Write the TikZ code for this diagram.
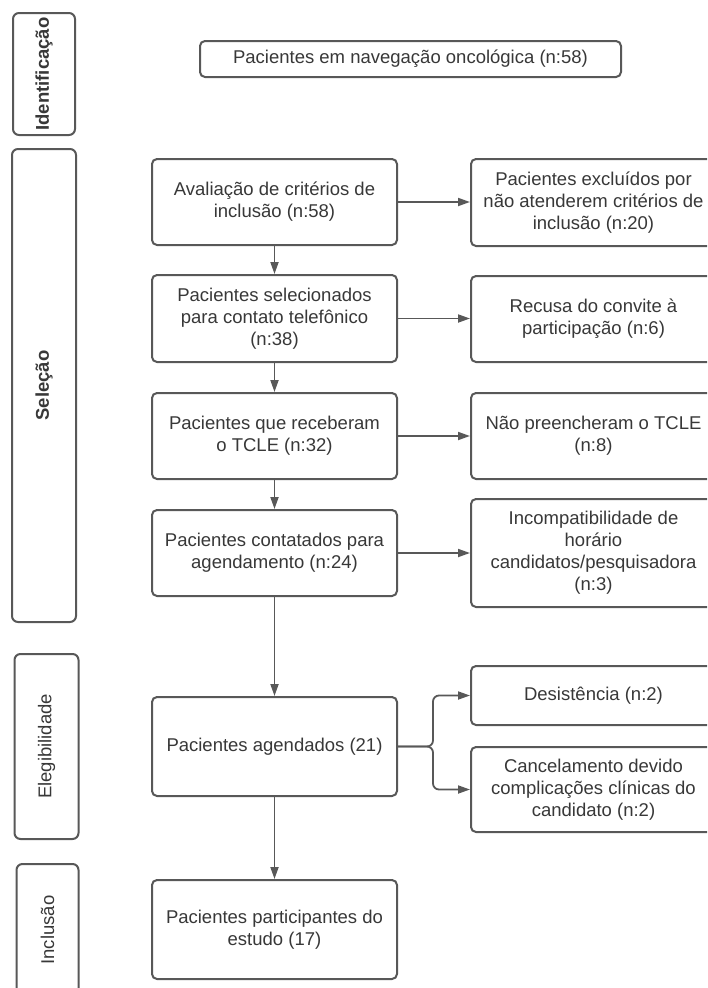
\documentclass[tikz,border=0pt]{standalone}
\usepackage{fontspec}
\setmainfont{Liberation Sans}
\usetikzlibrary{arrows.meta}
\definecolor{linegray}{HTML}{585858}
\definecolor{textgray}{HTML}{383838}
\begin{document}
\begin{tikzpicture}[x=1pt,y=-1pt,
  every node/.style={font=\fontsize{18.5}{22}\selectfont, text=textgray},
  box/.style={draw=linegray, line width=2pt, rounded corners=5pt, align=center, inner sep=2pt},
  mainbox/.style={box, minimum width=245pt},
  sidebox/.style={box, rotate=90, rounded corners=6pt},
  conn/.style={draw=linegray, line width=1.8pt},
  arr/.style={conn, -{Triangle[length=12pt,width=8pt]}}
]
\useasboundingbox (0,0) rectangle (707,988);
\clip (0,0) rectangle (707,988);
\fill[white] (0,0) rectangle (707,988);

% side boxes
\node[sidebox, minimum width=122pt, minimum height=62pt] (s1) at (44,74) {\textbf{Identificação}};
\node[sidebox, minimum width=473pt, minimum height=64pt] (s2) at (44,385.5) {\textbf{Seleção}};
\node[sidebox, minimum width=185pt, minimum height=64pt] (s3) at (46.5,746.5) {Elegibilidade};
\node[sidebox, minimum width=132pt, minimum height=62pt] (s4) at (47.5,930) {Inclusão};

% top
\node[box, minimum width=421pt, minimum height=36pt] (top) at (410.5,59) {Pacientes em navegação oncológica (n:58)};

% main column
\node[mainbox, minimum height=86pt] (b1) at (274.5,202) {Avaliação de critérios de\\inclusão (n:58)};
\node[mainbox, minimum height=87pt] (b2) at (274.5,318.5) {Pacientes selecionados\\para contato telefônico\\(n:38)};
\node[mainbox, minimum height=86pt] (b3) at (274.5,436) {Pacientes que receberam\\o TCLE (n:32)};
\node[mainbox, minimum height=86pt] (b4) at (274.5,553) {Pacientes contatados para\\agendamento (n:24)};
\node[mainbox, minimum height=99pt] (b5) at (274.5,746.5) {Pacientes agendados (21)};
\node[mainbox, minimum height=99pt] (b6) at (274.5,929.5) {Pacientes participantes do\\estudo (17)};

% right column
\node[mainbox, minimum height=87pt] (r1) at (593.5,202.5) {Pacientes excluídos por\\não atenderem critérios de\\inclusão (n:20)};
\node[mainbox, minimum height=86pt] (r2) at (593.5,319) {Recusa do convite à\\participação (n:6)};
\node[mainbox, minimum height=86pt] (r3) at (593.5,436) {Não preencheram o TCLE\\(n:8)};
\node[mainbox, minimum height=108pt] (r4) at (593.5,553) {Incompatibilidade de\\horário\\candidatos/pesquisadora\\(n:3)};
\node[mainbox, minimum height=59pt] (r5) at (593.5,695.5) {Desistência (n:2)};
\node[mainbox, minimum height=85pt] (r6) at (593.5,789.5) {Cancelamento devido\\complicações clínicas do\\candidato (n:2)};

% vertical arrows
\draw[arr] (b1.south) -- (b2.north);
\draw[arr] (b2.south) -- (b3.north);
\draw[arr] (b3.south) -- (b4.north);
\draw[arr] (b4.south) -- (b5.north);
\draw[arr] (b5.south) -- (b6.north);

% horizontal arrows
\draw[arr] (b1.east) -- (b1.east -| r1.west);
\draw[arr] (b2.east) -- (b2.east -| r2.west);
\draw[arr] (b3.east) -- (b3.east -| r3.west);
\draw[arr] (b4.east) -- (b4.east -| r4.west);

% fork
\coordinate (fk) at (433,746.5);
\draw[arr, rounded corners=6pt] (b5.east) -- (fk) |- (r5.west);
\draw[arr, rounded corners=6pt] (b5.east) -- (fk) |- (r6.west);
\end{tikzpicture}
\end{document}
